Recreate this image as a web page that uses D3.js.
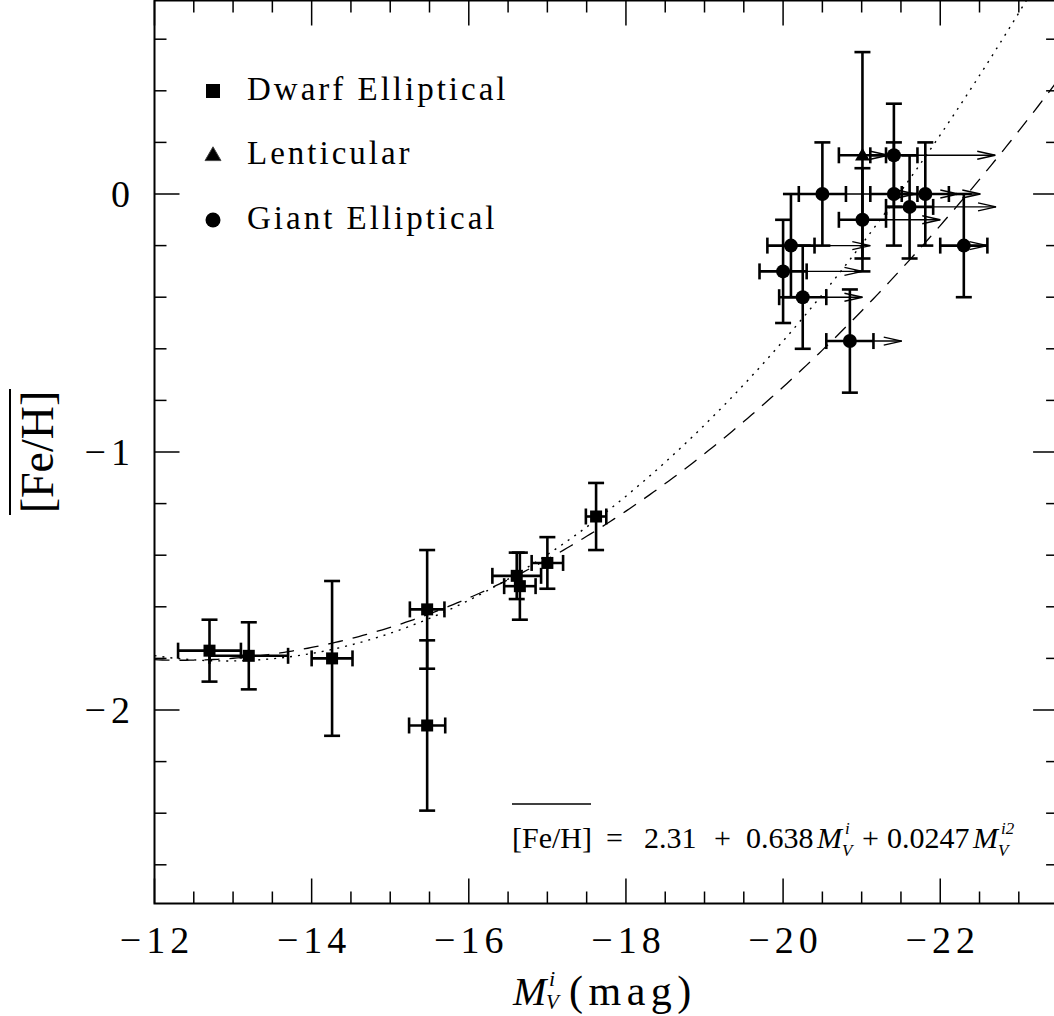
<!DOCTYPE html>
<html>
<head>
<meta charset="utf-8">
<script src="https://cdn.jsdelivr.net/npm/d3@7"></script>
<style>
  html, body { margin: 0; padding: 0; background: #fff; }
  svg { display: block; }
  text { font-family: "Liberation Serif", "Times New Roman", serif; fill: #000; }
</style>
</head>
<body>
<svg id="chart" width="1054" height="1016"></svg>
<script>
// ---- data -------------------------------------------------------------
// Dwarf ellipticals: absolute magnitude, mean metallicity and 1-sigma errors
const dwarfM      = [-12.70, -13.20, -14.26, -15.47, -15.47, -16.61, -16.65, -17.00, -17.62];
const dwarfFeH    = [-1.77, -1.79, -1.80, -1.61, -2.06, -1.48, -1.52, -1.43, -1.25];
const dwarfMErr   = [0.40, 0.50, 0.26, 0.22, 0.23, 0.31, 0.20, 0.20, 0.13];
const dwarfFeHErr = [0.12, 0.13, 0.30, 0.23, 0.33, 0.09, 0.13, 0.10, 0.13];

// Lenticular
const lentM      = [-21.01];
const lentFeH    = [0.15];
const lentMErr   = [0.30];
const lentFeHErr = [0.40];
const lentMLimit = [-21.34];

// Giant ellipticals (magnitudes are lower limits: arrows point to brighter values)
const giantM      = [-21.41, -20.50, -21.41, -21.81, -21.61, -21.01, -20.10, -20.00, -20.25, -20.85, -22.30];
const giantFeH    = [0.15, 0.00, 0.00, 0.00, -0.05, -0.10, -0.20, -0.30, -0.40, -0.57, -0.20];
const giantMErr   = [0.30, 0.30, 0.30, 0.30, 0.30, 0.30, 0.30, 0.30, 0.30, 0.30, 0.30];
const giantFeHErr = [0.20, 0.20, 0.20, 0.20, 0.20, 0.20, 0.20, 0.20, 0.20, 0.20, 0.20];
const giantMLimit = [-22.70, -21.68, -22.51, -22.23, -22.71, -22.00, -21.11, -21.01, -21.01, -21.51, -22.60];

// Quadratic fits [a, b, c] : [Fe/H] = a + b*M + c*M^2
const fitDotted = [2.31, 0.638, 0.0247];
const fitDashed = [0.946, 0.4461, 0.01807];

// Axis ticks
const xMajorTicks = [-12, -14, -16, -18, -20, -22];
const yMajorTicks = [0, -1, -2];
const legendLabels = ["Dwarf Elliptical", "Lenticular", "Giant Elliptical"];

// ---- layout -----------------------------------------------------------
const svg = d3.select("#chart");
const x = d3.scaleLinear().domain([-12, -23.5]).range([154.5, 1058.1]);
const y = d3.scaleLinear().domain([-2.75, 0.75]).range([903.5, 0.5]);
const [x0, x1] = x.range();
const [y1, y0] = y.range();

svg.append("defs").append("clipPath").attr("id", "plotclip")
  .append("rect").attr("x", x0).attr("y", y0).attr("width", x1 - x0).attr("height", y1 - y0);

// ---- frame and ticks ---------------------------------------------------
const axes = svg.append("g").attr("stroke", "#000").attr("fill", "none");
axes.append("rect").attr("x", x0).attr("y", y0).attr("width", x1 - x0).attr("height", y1 - y0)
  .attr("stroke-width", 2);

const majorLen = 25, minorLen = 12;
const xMinor = d3.range(-12, -23.51, -0.5);
xMinor.forEach(v => {
  const len = xMajorTicks.includes(v) ? majorLen : minorLen;
  const px = x(v);
  axes.append("line").attr("x1", px).attr("x2", px).attr("y1", y1).attr("y2", y1 - len).attr("stroke-width", 1.5);
  axes.append("line").attr("x1", px).attr("x2", px).attr("y1", y0).attr("y2", y0 + len).attr("stroke-width", 1.5);
});
const yMinor = d3.range(0.6, -2.75, -0.2).map(v => Math.round(v * 10) / 10);
yMinor.forEach(v => {
  const len = yMajorTicks.includes(v) ? majorLen : minorLen;
  const py = y(v);
  axes.append("line").attr("x1", x0).attr("x2", x0 + len).attr("y1", py).attr("y2", py).attr("stroke-width", 1.5);
  axes.append("line").attr("x1", x1).attr("x2", x1 - len).attr("y1", py).attr("y2", py).attr("stroke-width", 1.5);
});

const fmt = v => (v < 0 ? "\u2212" : "") + Math.abs(v);
const tickFont = 38, tickLs = 5;
svg.append("g").selectAll("text").data(xMajorTicks).join("text")
  .attr("x", d => x(d) + tickLs / 2).attr("y", 953)
  .attr("text-anchor", "middle").attr("font-size", tickFont).attr("letter-spacing", tickLs)
  .text(fmt);
svg.append("g").selectAll("text").data(yMajorTicks).join("text")
  .attr("x", 130 + tickLs).attr("y", d => y(d) + 13)
  .attr("text-anchor", "end").attr("font-size", tickFont).attr("letter-spacing", tickLs)
  .text(fmt);

// axis titles
const xt = svg.append("g");
xt.append("text").attr("x", 513).attr("y", 1005).attr("font-size", 40).attr("font-style", "italic").text("M");
xt.append("text").attr("x", 549).attr("y", 986).attr("font-size", 22).attr("font-style", "italic").text("i");
xt.append("text").attr("x", 546).attr("y", 1009).attr("font-size", 21).attr("font-style", "italic").text("V");
xt.append("text").attr("x", 569).attr("y", 1005).attr("font-size", 42).attr("letter-spacing", 5.5).text("(mag)");

const yt = svg.append("g").attr("transform", "translate(53,452) rotate(-90)");
yt.append("text").attr("x", 0).attr("y", 0).attr("text-anchor", "middle").attr("font-size", 46).text("[Fe/H]");
yt.append("line").attr("x1", -63).attr("x2", 63).attr("y1", -43).attr("y2", -43)
  .attr("stroke", "#000").attr("stroke-width", 2);

// ---- fit curves --------------------------------------------------------
const curveM = d3.range(-12, -23.51, -0.05);
const quad = c => m => c[0] + c[1] * m + c[2] * m * m;
const line = d3.line().x(d => x(d[0])).y(d => y(d[1]));
const curves = svg.append("g").attr("clip-path", "url(#plotclip)").attr("fill", "none").attr("stroke", "#000");
curves.append("path").datum(curveM.map(m => [m, quad(fitDotted)(m)]))
  .attr("d", line).attr("stroke-width", 1.4).attr("stroke-dasharray", "2,6");
curves.append("path").datum(curveM.map(m => [m, quad(fitDashed)(m)]))
  .attr("d", line).attr("stroke-width", 1.3).attr("stroke-dasharray", "15,10");

// ---- error bars ----------------------------------------------------------
const capH = 8;
function errorBars(g, ms, fs, me, fe) {
  ms.forEach((m, i) => {
    const px = x(m), py = y(fs[i]);
    const xl = x(m + me[i]), xr = x(m - me[i]);
    const yt2 = y(fs[i] + fe[i]), yb = y(fs[i] - fe[i]);
    g.append("line").attr("x1", xl).attr("x2", xr).attr("y1", py).attr("y2", py);
    g.append("line").attr("x1", xl).attr("x2", xl).attr("y1", py - capH).attr("y2", py + capH);
    g.append("line").attr("x1", xr).attr("x2", xr).attr("y1", py - capH).attr("y2", py + capH);
    g.append("line").attr("x1", px).attr("x2", px).attr("y1", yt2).attr("y2", yb);
    g.append("line").attr("x1", px - capH).attr("x2", px + capH).attr("y1", yt2).attr("y2", yt2);
    g.append("line").attr("x1", px - capH).attr("x2", px + capH).attr("y1", yb).attr("y2", yb);
  });
}
function limitArrows(g, ms, fs, lims) {
  ms.forEach((m, i) => {
    const px = x(m), py = y(fs[i]), tip = x(lims[i]);
    g.append("line").attr("x1", px).attr("x2", tip).attr("y1", py).attr("y2", py);
    g.append("path").attr("d", `M${tip - 18},${py - 4}L${tip},${py}L${tip - 18},${py + 4}`);
  });
}
const arrows = svg.append("g").attr("stroke", "#000").attr("fill", "none").attr("stroke-width", 1.4);
limitArrows(arrows, giantM, giantFeH, giantMLimit);
limitArrows(arrows, lentM, lentFeH, lentMLimit);

const bars = svg.append("g").attr("stroke", "#000").attr("stroke-width", 2.6);
errorBars(bars, dwarfM, dwarfFeH, dwarfMErr, dwarfFeHErr);
errorBars(bars, giantM, giantFeH, giantMErr, giantFeHErr);
errorBars(bars, lentM, lentFeH, lentMErr, lentFeHErr);

// ---- markers ----------------------------------------------------------------
const marks = svg.append("g").attr("fill", "#000");
const sq = 12;
marks.selectAll("rect.dw").data(dwarfM).join("rect").attr("class", "dw")
  .attr("x", (d, i) => x(d) - sq / 2).attr("y", (d, i) => y(dwarfFeH[i]) - sq / 2)
  .attr("width", sq).attr("height", sq);
marks.selectAll("circle.ge").data(giantM).join("circle").attr("class", "ge")
  .attr("cx", d => x(d)).attr("cy", (d, i) => y(giantFeH[i])).attr("r", 7);
const tri = d3.symbol().type(d3.symbolTriangle).size(95);
marks.selectAll("path.le").data(lentM).join("path").attr("class", "le")
  .attr("transform", (d, i) => `translate(${x(d)},${y(lentFeH[i]) + 1})`).attr("d", tri);

// ---- legend -----------------------------------------------------------------
const legend = svg.append("g");
const legY = [91, 155, 220];
legend.append("rect").attr("x", 213 - 7).attr("y", legY[0] - 7).attr("width", 14).attr("height", 14);
legend.append("path").attr("transform", `translate(213,${legY[1] + 1})`)
  .attr("d", d3.symbol().type(d3.symbolTriangle).size(110)).attr("stroke", "#444").attr("stroke-width", 1);
legend.append("circle").attr("cx", 213).attr("cy", legY[2]).attr("r", 7.5);
legend.selectAll("text").data(legendLabels).join("text")
  .attr("x", 247).attr("y", (d, i) => legY[i] + 9).attr("font-size", 33).attr("letter-spacing", 3)
  .text(d => d);

// ---- fit equation -------------------------------------------------------------
const eq = svg.append("g").attr("font-size", 30);
const eqY = 848;
const piece = (t, px, opts = {}) => eq.append("text").attr("x", px).attr("y", eqY + (opts.dy || 0))
  .attr("font-size", opts.size || 30).attr("font-style", opts.italic ? "italic" : null).text(t);
piece("[Fe/H]", 512);
eq.append("line").attr("x1", 512).attr("x2", 591).attr("y1", 804).attr("y2", 804)
  .attr("stroke", "#000").attr("stroke-width", 1.5);
piece("=", 606);
piece(fitDotted[0].toFixed(2), 644);
piece("+", 714);
piece(fitDotted[1].toFixed(3), 746);
piece("M", 817, { italic: true });
piece("i", 845, { italic: true, size: 17, dy: -14 });
piece("V", 842, { italic: true, size: 17, dy: 8 });
piece("+", 862);
piece(fitDotted[2].toFixed(4), 887);
piece("M", 973, { italic: true });
piece("i2", 1001, { italic: true, size: 17, dy: -14 });
piece("V", 998, { italic: true, size: 17, dy: 8 });
</script>
</body>
</html>
